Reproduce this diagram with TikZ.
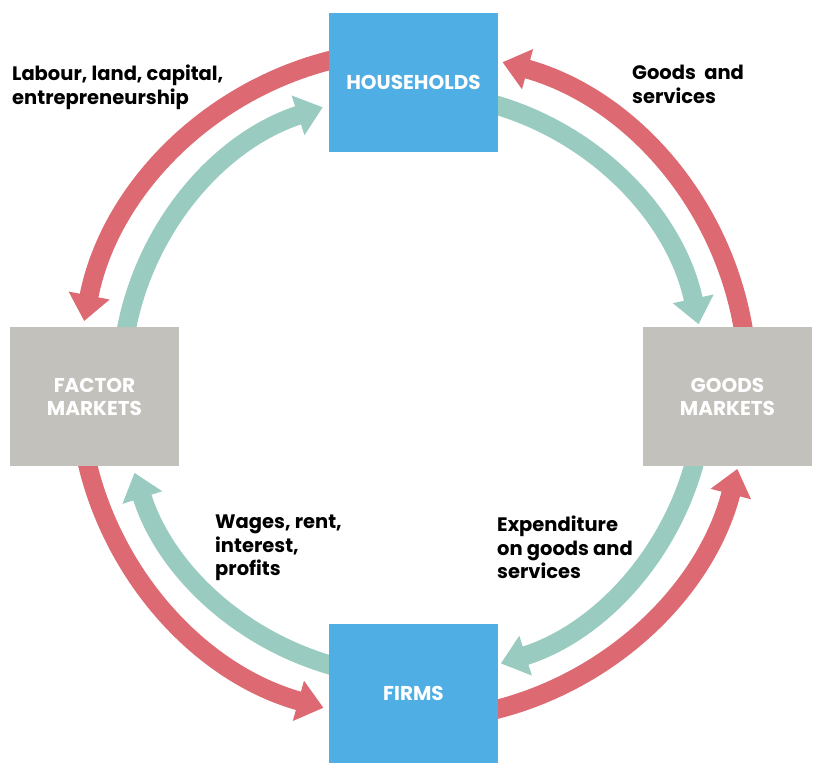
\documentclass[tikz,border=0pt]{standalone}
\usepackage{fontspec}
\setmainfont{Poppins}
\usetikzlibrary{arrows.meta,calc}
\definecolor{boxblue}{HTML}{4FAEE4}
\definecolor{boxgrey}{HTML}{C3C1BC}
\definecolor{flowred}{HTML}{DD6A72}
\definecolor{flowteal}{HTML}{99CBC1}
\begin{document}
\begin{tikzpicture}[x=1pt,y=1pt,
  sector/.style={minimum width=169pt,minimum height=139pt,inner sep=0pt,
    align=center,text=white,font=\fontsize{20}{23}\selectfont\bfseries},
  hhbox/.style={sector,fill=boxblue},
  mkbox/.style={sector,fill=boxgrey},
  flow/.style={line width=19pt,-{Triangle[width=40pt,length=26pt]}},
  money/.style={flow,draw=flowteal},
  real/.style={flow,draw=flowred},
  caption/.style={anchor=north west,inner sep=0pt,align=left,
    font=\fontsize{19.5}{23.5}\selectfont\bfseries}]
\useasboundingbox (0,0) rectangle (820,776);
\fill[white] (0,0) rectangle (820,776);

% centre of the circular flow
\coordinate (C) at (413,391);

% money flows (inner ring)
\draw[money] ($(C)+(175:292)$) arc[start angle=175,end angle=108,radius=292];
\draw[money] ($(C)+(78:292)$) arc[start angle=78,end angle=12,radius=292];
\draw[money] ($(C)+(-8:292)$) arc[start angle=-8,end angle=-72.5,radius=292];
\draw[money] ($(C)+(262:292)$) arc[start angle=262,end angle=197.5,radius=292];

% real flows (outer ring)
\draw[real] ($(C)+(100:335)$) arc[start angle=100,end angle=169,radius=335];
\draw[real] ($(C)+(188:335)$) arc[start angle=188,end angle=254.5,radius=335];
\draw[real] ($(C)+(280:335)$) arc[start angle=280,end angle=345.5,radius=335];
\draw[real] ($(C)+(5:335)$) arc[start angle=5,end angle=74.5,radius=335];

% sectors
\node[hhbox] (hh) at (413.5,693.5) {HOUSEHOLDS};
\node[hhbox] (firms) at (413.5,82.5) {FIRMS};
\node[mkbox] (fm) at (94.5,379) {FACTOR\\MARKETS};
\node[mkbox] (gm) at (727.5,379.5) {GOODS\\MARKETS};

% flow labels
\node[caption] (lab1) at (12,711) {Labour, land, capital,\\entrepreneurship};
\node[caption] (lab2) at (632,711) {Goods\ \ and\\services};
\node[caption] (lab3) at (215,261) {Wages, rent,\\interest,\\profits};
\node[caption] (lab4) at (497,260) {Expenditure\\on goods and\\services};
\end{tikzpicture}
\end{document}
